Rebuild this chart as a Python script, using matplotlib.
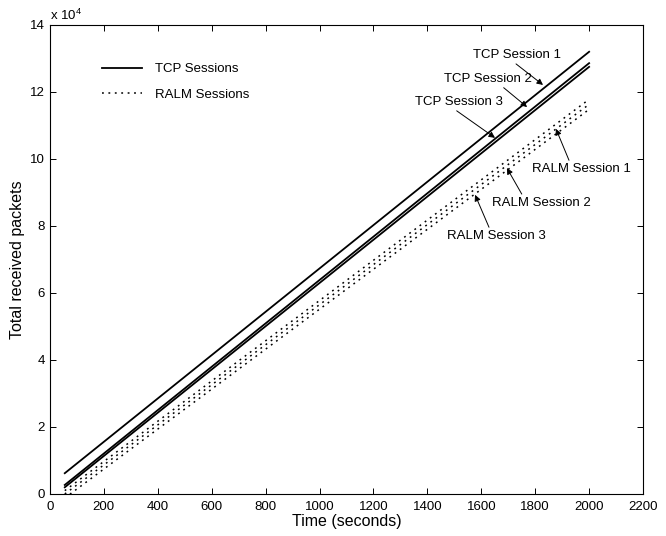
import matplotlib
matplotlib.use("Agg")
from matplotlib import pyplot as plt
from matplotlib.ticker import FuncFormatter, MultipleLocator

plt.rcParams['font.family'] = ['Liberation Sans', 'DejaVu Sans']

# straight lines: start / end points
tcp_time = [55, 2000]
tcp1 = [6200, 132000]
tcp2 = [2700, 128600]
tcp3 = [2000, 127500]

ralm_time = [55, 2000]
ralm1 = [1000, 117800]
ralm2 = [0, 116300]
ralm3 = [-1200, 114800]

# annotation: label, text position, arrow head, arrow start inside text box
notes = [
    ("TCP Session 1", (1732, 131000), (1829, 122100), (0.45, 0.0)),
    ("TCP Session 2", (1625, 123900), (1770, 115500), (0.64, 0.0)),
    ("TCP Session 3", (1517, 117000), (1651, 106300), (0.43, 0.0)),
    ("RALM Session 1", (1970, 97000), (1877, 109000), (0.39, 1.0)),
    ("RALM Session 2", (1822, 86900), (1695, 97300), (0.32, 1.0)),
    ("RALM Session 3", (1655, 77000), (1577, 89300), (0.44, 1.0)),
]

fig = plt.figure(figsize=(6.66, 5.36), dpi=100)
ax = fig.add_axes([0.075, 0.0784, 0.8905, 0.875])

dots = (0, (1.2, 3.0))
ax.plot(tcp_time, tcp1, '-', color='k', lw=1.3, label='TCP Sessions')
ax.plot(tcp_time, tcp2, '-', color='k', lw=1.3)
ax.plot(tcp_time, tcp3, '-', color='k', lw=1.3)
ax.plot(ralm_time, ralm1, linestyle=dots, color='k', lw=1.1, label='RALM Sessions')
ax.plot(ralm_time, ralm2, linestyle=dots, color='k', lw=1.1)
ax.plot(ralm_time, ralm3, linestyle=dots, color='k', lw=1.1)

for label, txt, head, rel in notes:
    ax.annotate(label, xy=head, xytext=txt, ha='center', va='center', fontsize=9.5,
                arrowprops=dict(arrowstyle='-|>', color='k', lw=0.7,
                                mutation_scale=9, shrinkA=0, shrinkB=0, relpos=rel))

ax.set_xlim(0, 2200)
ax.set_ylim(0, 140000)
ax.xaxis.set_major_locator(MultipleLocator(200))
ax.yaxis.set_major_locator(MultipleLocator(20000))
ax.yaxis.set_major_formatter(FuncFormatter(lambda v, p: '%g' % (v / 1e4)))
ax.tick_params(direction='in', top=True, right=True, length=4, width=0.7, labelsize=9.5)
ax.tick_params(axis='x', pad=5)
for s in ax.spines.values():
    s.set_linewidth(0.8)

ax.text(0.0, 1.005, r'x 10$^{\mathregular{4}}$', transform=ax.transAxes, fontsize=9.5,
        ha='left', va='bottom')

ax.set_xlabel("Time (seconds)", fontsize=11.5, labelpad=1)
ax.set_ylabel("Total received packets", fontsize=11.5, labelpad=4)

ax.legend(loc='upper left', bbox_to_anchor=(0.079, 0.93), frameon=False, borderaxespad=0,
          fontsize=9.5, handlelength=3.0, handletextpad=1.0, labelspacing=1.0)

plt.savefig("out.png", dpi=100)
